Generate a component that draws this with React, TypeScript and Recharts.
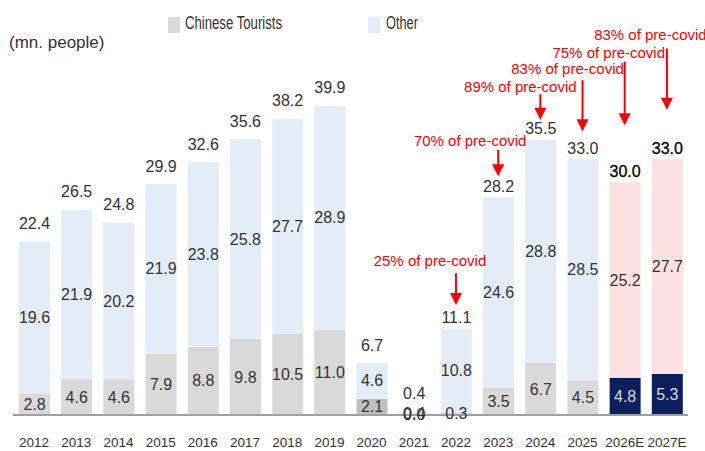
import React from 'react';
import { BarChart, Bar, XAxis, YAxis, Cell, LabelList, ReferenceLine, ReferenceDot } from 'recharts';

// ---------- data ----------
const years = ['2012', '2013', '2014', '2015', '2016', '2017', '2018', '2019', '2020', '2021', '2022', '2023', '2024', '2025', '2026E', '2027E'];
const chineseTourists = [2.8, 4.6, 4.6, 7.9, 8.8, 9.8, 10.5, 11.0, 2.1, 0.04, 0.3, 3.5, 6.7, 4.5, 4.8, 5.3];
const otherTourists = [19.6, 21.9, 20.2, 21.9, 23.8, 25.8, 27.7, 28.9, 4.6, 0.4, 10.8, 24.6, 28.8, 28.5, 25.2, 27.7];
const totalTourists = [22.4, 26.5, 24.8, 29.9, 32.6, 35.6, 38.2, 39.9, 6.7, 0.4, 11.1, 28.2, 35.5, 33.0, 30.0, 33.0];
const forecastYears = ['2026E', '2027E'];
const covidYears = ['2020', '2021'];

const annotationYears = ['2022', '2023', '2024', '2025', '2026E', '2027E'];
const annotationTexts = ['25% of pre-covid', '70% of pre-covid', '89% of pre-covid', '83% of pre-covid', '75% of pre-covid', '83% of pre-covid'];
const annotationTextLevel = [20.0, 35.4, 42.4, 44.7, 46.8, 49.1];
const annotationArrowStart = [18.3, 34.2, 41.4, 43.2, 45.6, 47.3];
const annotationArrowTip = [14.2, 30.8, 38.1, 36.6, 37.4, 39.4];

// ---------- layout / style ----------
const annotationTextShift = [-26, -28, -20, -15, -16, -16.5];
const C_CHINESE = '#d9d9d9';
const C_CHINESE_COVID = '#bfbfbf';
const C_CHINESE_FC = '#0b1f5e';
const C_OTHER = '#e3edf8';
const C_OTHER_FC = '#fde1e1';
const VALUE_FONT = '"Liberation Sans", Arial, sans-serif';

const rows = years.map((y, i) => ({
  year: y,
  chinese: chineseTourists[i],
  other: otherTourists[i],
  total: totalTourists[i],
}));

const SegmentLabel = (props: any) => {
  const { x, y, width, height, value, index } = props;
  const isFc = forecastYears.includes(years[index]);
  return (
    <text
      x={x + width / 2}
      y={y + height / 2}
      textAnchor="middle"
      dominantBaseline="central"
      fontSize={16}
      fontFamily={VALUE_FONT}
      fill={props.light && isFc ? '#d6dbea' : '#333'}
    >
      {Number(value).toFixed(1)}
    </text>
  );
};

const TotalLabel = (props: any) => {
  const { x, y, width, value, index } = props;
  const isFc = forecastYears.includes(years[index]);
  const off = index >= 10 ? 11 : 18;
  return (
    <text
      x={x + width / 2}
      y={y - off}
      textAnchor="middle"
      dominantBaseline="central"
      fontSize={16}
      fontFamily={VALUE_FONT}
      fill={isFc ? '#000' : '#333'}
      stroke={isFc ? '#000' : 'none'}
      strokeWidth={isFc ? 0.3 : 0}
    >
      {Number(value).toFixed(1)}
    </text>
  );
};

export default function App() {
  return (
    <div style={{ position: 'absolute', left: 0, top: 0, width: 705, height: 451, background: '#fff' }}>
      <BarChart
        width={705}
        height={451}
        data={rows}
        margin={{ top: 12, right: 17, bottom: 6, left: 13 }}
        barSize={31}
      >
        <XAxis
          dataKey="year"
          interval={0}
          tickLine={false}
          axisLine={{ stroke: '#a0a0a0', strokeWidth: 2 }}
          tick={{ fontSize: 13.5, fill: '#333', fontFamily: VALUE_FONT }}
          tickMargin={16}
          height={30}
        />
        <YAxis hide domain={[0, 52]} allowDataOverflow />
        <Bar dataKey="chinese" stackId="s" isAnimationActive={false}>
          {rows.map((r) => (
            <Cell
              key={r.year}
              fill={forecastYears.includes(r.year) ? C_CHINESE_FC : covidYears.includes(r.year) ? C_CHINESE_COVID : C_CHINESE}
            />
          ))}
          <LabelList dataKey="chinese" content={(p: any) => <SegmentLabel {...p} light />} />
        </Bar>
        <Bar dataKey="other" stackId="s" isAnimationActive={false}>
          {rows.map((r) => (
            <Cell key={r.year} fill={forecastYears.includes(r.year) ? C_OTHER_FC : C_OTHER} />
          ))}
          <LabelList dataKey="other" content={(p: any) => <SegmentLabel {...p} />} />
          <LabelList dataKey="total" content={(p: any) => <TotalLabel {...p} />} />
        </Bar>
        {annotationYears.map((yr, i) => (
          <ReferenceLine
            key={'l' + yr}
            segment={[
              { x: yr, y: annotationArrowStart[i] },
              { x: yr, y: annotationArrowTip[i] + 1.3 },
            ]}
            stroke="#ff0000"
            strokeWidth={2}
            ifOverflow="visible"
          />
        ))}
        {annotationYears.map((yr, i) => (
          <ReferenceDot
            key={'h' + yr}
            x={yr}
            y={annotationArrowTip[i]}
            ifOverflow="visible"
            shape={(p: any) => (
              <polygon
                points={`${p.cx - 6},${p.cy - 12} ${p.cx + 6},${p.cy - 12} ${p.cx},${p.cy}`}
                fill="#ff0000"
              />
            )}
          />
        ))}
        {annotationYears.map((yr, i) => (
          <ReferenceDot
            key={'t' + yr}
            x={yr}
            y={annotationTextLevel[i]}
            ifOverflow="visible"
            shape={(p: any) => (
              <text
                x={p.cx + annotationTextShift[i]}
                y={p.cy}
                textAnchor="middle"
                dominantBaseline="central"
                fontSize={15}
                fontFamily={VALUE_FONT}
                fill="#ff0000"
              >
                {annotationTexts[i]}
              </text>
            )}
          />
        ))}
      </BarChart>
      <svg
        width={705}
        height={451}
        style={{ position: 'absolute', left: 0, top: 0, pointerEvents: 'none' }}
      >
        <text x={9} y={42} dominantBaseline="central" fontSize={17} fontFamily={VALUE_FONT} fill="#333">
          (mn. people)
        </text>
        <rect x={168} y={17} width={12} height={16} fill={C_CHINESE} />
        <text x={185} y={23} dominantBaseline="central" fontSize={18} fontFamily={VALUE_FONT} fill="#333" textLength={97} lengthAdjust="spacingAndGlyphs">
          Chinese Tourists
        </text>
        <rect x={368} y={17} width={12} height={16} fill={C_OTHER} />
        <text x={386} y={23} dominantBaseline="central" fontSize={18} fontFamily={VALUE_FONT} fill="#333" textLength={32} lengthAdjust="spacingAndGlyphs">
          Other
        </text>
      </svg>
    </div>
  );
}
